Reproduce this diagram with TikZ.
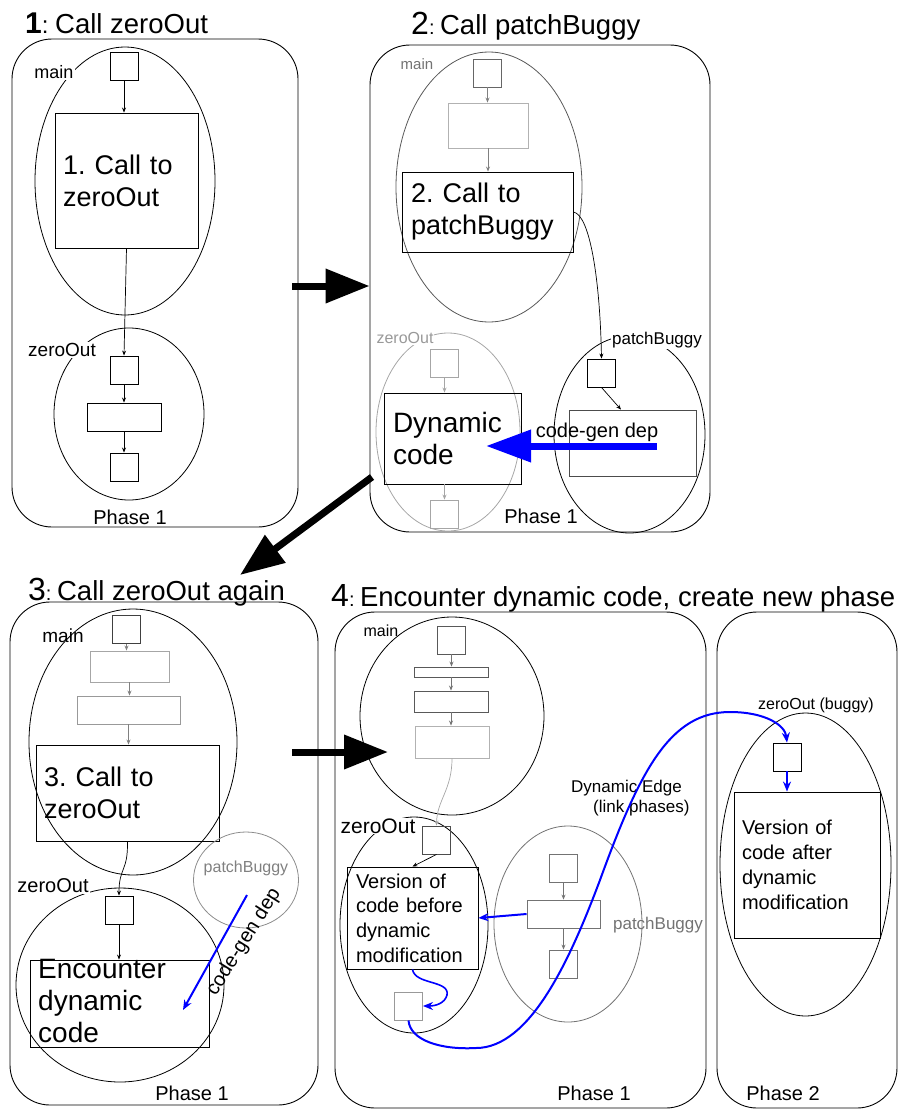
\documentclass[tikz,border=0pt]{standalone}
\usepackage{fontspec}
\setmainfont{Liberation Sans}
\usetikzlibrary{shapes.geometric,arrows.meta,calc}
\newcommand{\fz}[2]{\fontsize{#1}{#2}\selectfont}
\frenchspacing
\begin{document}
\begin{tikzpicture}[x=1pt,y=-1pt,
  panel/.style={draw, rounded corners=40pt, line width=0.9pt, inner sep=0pt},
  ell/.style={draw, ellipse, inner sep=0pt, line width=0.8pt},
  bx/.style={draw, rectangle, inner sep=0pt, line width=0.9pt},
  sq/.style={bx, minimum width=28pt, minimum height=28pt},
  con/.style={-{Stealth[length=5pt,width=4pt]}, line width=0.7pt},
  bigarrow/.style={line width=7pt, -{Triangle[length=44pt,width=33pt]}},
  bluebig/.style={draw=blue, line width=7pt, -{Triangle[length=45pt,width=31pt]}},
  bluearrow/.style={draw=blue, line width=2pt, -{Stealth[length=10pt,width=8pt]}},
  lab/.style={inner sep=1pt},
  wlab/.style={inner sep=1pt, fill=white}]
\useasboundingbox (0,0) rectangle (902,1111);

% ---------- panels ----------
\node[panel, minimum width=286pt, minimum height=488pt] (pan1) at (155,283) {};
\node[panel, minimum width=340pt, minimum height=487pt] (pan2) at (540,288.5) {};
\node[panel, minimum width=308pt, minimum height=503pt] (pan3) at (164,853.5) {};
\node[panel, minimum width=371pt, minimum height=496pt] (pan4) at (520.5,860) {};
\node[panel, minimum width=180pt, minimum height=496pt] (pan5) at (807,860) {};

% ---------- titles ----------
\node[anchor=base west, inner sep=0pt] (t1) at (25,33) {\fz{30}{34}\bfseries 1\mdseries\fz{24}{28}: \fz{27.5}{32}Call zeroOut};
\node[anchor=base west, inner sep=0pt] (t2) at (411,34) {\fz{32}{36}2\fz{20}{24}: \fz{27.5}{32}Call patchBuggy};
\node[anchor=base west, inner sep=0pt] (t3) at (28,600) {\fz{32}{36}3\fz{20}{24}: \fz{27.5}{32}Call zeroOut again};
\node[anchor=base west, inner sep=0pt] (t4) at (331,606) {\fz{32}{36}4\fz{20}{24}: \fz{27.5}{32}Encounter dynamic code, create new phase};

% ---------- panel 1 ----------
\node[ell, minimum width=180pt, minimum height=268pt] (p1m) at (125,181) {};
\node[sq] (p1a) at (124,66) {};
\node[bx, minimum width=143pt, minimum height=135pt, inner xsep=8pt, align=left, text width=127pt, font=\fz{27}{32}] (p1b) at (126.5,180.5) {1. Call to\\zeroOut};
\node[ell, minimum width=150pt, minimum height=172pt] (p1z) at (129,414) {};
\node[sq] (p1c) at (124,370) {};
\node[bx, minimum width=74pt, minimum height=28pt] (p1d) at (124,417) {};
\node[sq] (p1e) at (124,467) {};
\node[wlab, font=\fz{18}{20}] (p1ml) at (54,72) {main};
\node[wlab, font=\fz{19}{22}] (p1zl) at (62,350) {zeroOut};
\node[lab, font=\fz{20}{24}] (p1ph) at (130,517) {Phase 1};
\draw[con] (p1a.south) -- (p1a.south |- p1b.north);
\draw[con] (p1b.south) -- (p1c.north);
\draw[con] (p1c.south) -- (p1d.north);
\draw[con] (p1d.south) -- (p1e.north);

% ---------- panel 2 ----------
\node[ell, draw=black!65, minimum width=186pt, minimum height=270pt] (p2m) at (489,187) {};
\node[sq, draw=black!60] (p2a) at (487.5,73) {};
\node[bx, draw=black!30, minimum width=80pt, minimum height=45pt] (p2b) at (488,125.5) {};
\node[bx, minimum width=171pt, minimum height=80pt, inner xsep=9pt, align=left, text width=153pt, font=\fz{27}{32}] (p2c) at (487.5,212) {2. Call to\\patchBuggy};
\node[ell, draw=black!35, minimum width=144pt, minimum height=198pt] (p2z) at (448,432) {};
\node[sq, draw=black!35] (p2d) at (444.5,363.5) {};
\node[bx, minimum width=137pt, minimum height=91pt, inner xsep=9pt, align=left, text width=119pt, font=\fz{28}{32}] (p2e) at (452.5,438.5) {Dynamic\\code};
\node[sq, draw=black!35] (p2f) at (444.5,514) {};
\node[ell, minimum width=151pt, minimum height=197pt] (p2p) at (629.5,434.5) {};
\node[sq] (p2g) at (601.5,373) {};
\node[bx, draw=black!70, minimum width=127pt, minimum height=66pt] (p2h) at (632.5,443) {};
\node[wlab, text=black!55, font=\fz{15}{18}] (p2ml) at (417,64) {main};
\node[wlab, text=black!40, font=\fz{16}{19}] (p2zl) at (405,338) {zeroOut};
\node[wlab, font=\fz{17}{20}] (p2pl) at (657,340) {patchBuggy};
\node[lab, font=\fz{20}{24}] (p2ph) at (541,516) {Phase 1};
\draw[con, draw=black!50] (p2a.south) -- (p2a.south |- p2b.north);
\draw[con, draw=black!50] (p2b.south) -- (p2b.south |- p2c.north);
\draw[con] (p2c.east) .. controls (590,215) and (600,280) .. (p2g.north);
\draw[con] (p2g.south) -- ($(p2h.north west)!0.41!(p2h.north east)$);
\draw[con, draw=black!35] (p2d.south) -- (p2d.south |- p2e.north);
\draw[con, draw=black!35] (p2f.north |- p2e.south) -- (p2f.north);
\coordinate (p2cs) at (657,446);
\coordinate (p2ce) at (486,446);
\draw[bluebig] (p2cs) -- (p2ce);
\node[lab, font=\fz{20}{24}] (p2cgl) at (597,432) {code-gen dep};

% ---------- panel 3 ----------
\node[ell, minimum width=208pt, minimum height=266pt] (p3m) at (133,742) {};
\node[sq, draw=black!75] (p3a) at (126.5,629.5) {};
\node[bx, draw=black!35, minimum width=79pt, minimum height=31pt] (p3b) at (129.5,666.5) {};
\node[bx, draw=black!40, minimum width=103pt, minimum height=28pt] (p3c) at (128.5,710) {};
\node[bx, minimum width=183pt, minimum height=96pt, inner xsep=8pt, align=left, text width=167pt, font=\fz{27}{32}] (p3d) at (127.5,793) {3. Call to\\zeroOut};
\node[ell, minimum width=208pt, minimum height=194pt] (p3z) at (120,985) {};
\node[sq] (p3e) at (119,910) {};
\node[bx, minimum width=179pt, minimum height=87pt] (p3f) at (119.5,1003.5) {};
\node[anchor=west, align=left, inner sep=0pt, font=\fz{28}{32}] (p3ft) at (38,1001) {Encounter\\dynamic\\code};
\node[ell, draw=black!45, minimum width=105pt, minimum height=96pt] (p3p) at (246,880) {};
\node[lab, font=\fz{19}{22}] (p3ml) at (63,636) {main};
\node[wlab, font=\fz{20}{24}] (p3zl) at (53,886) {zeroOut};
\node[lab, text=black!50, font=\fz{16}{19}] (p3pl) at (246,868) {patchBuggy};
\node[lab, font=\fz{20}{24}] (p3ph) at (192,1093) {Phase 1};
\draw[con, draw=black!50] (p3a.south) -- (p3a.south |- p3b.north);
\draw[con, draw=black!50] (p3b.south) -- (p3b.south |- p3c.north);
\draw[con, draw=black!50] (p3c.south) -- (p3c.south |- p3d.north);
\draw[con] (p3d.south) .. controls (128,872) and (119,867) .. (p3e.north);
\draw[con] (p3e.south) -- (p3e.south |- p3f.north);
\coordinate (p3bs) at (247,895);
\coordinate (p3be) at (183,1010);
\draw[bluearrow] (p3bs) -- (p3be);
\node[lab, rotate=58, font=\fz{20}{24}] (p3cg) at (244,942) {code-gen dep};

% ---------- panel 4, phase 1 ----------
\node[ell, minimum width=184pt, minimum height=198pt] (p4m) at (452,716) {};
\node[sq, draw=black!65] (p4a) at (451.5,640) {};
\node[bx, draw=black!65, minimum width=74pt, minimum height=10pt] (p4b) at (451,672) {};
\node[bx, draw=black!65, minimum width=74pt, minimum height=21pt] (p4c) at (451,701.5) {};
\node[bx, draw=black!30, minimum width=74pt, minimum height=32pt] (p4d) at (452,742) {};
\node[ell, minimum width=148pt, minimum height=216pt] (p4z) at (414,925) {};
\node[sq, draw=black!70] (p4e) at (436.5,840) {};
\node[bx, minimum width=131pt, minimum height=102pt, inner xsep=9pt, align=left, text width=113pt, font=\fz{20}{24.7}] (p4f) at (412.5,918) {Version of\\code before\\dynamic\\modification};
\node[sq, draw=black!40] (p4g) at (408.5,1006) {};
\node[ell, draw=black!55, minimum width=148pt, minimum height=196pt] (p4p) at (568,924) {};
\node[sq, draw=black!55] (p4h) at (563.5,868) {};
\node[bx, draw=black!55, minimum width=73pt, minimum height=28pt] (p4i) at (563.5,914) {};
\node[sq, draw=black!55] (p4j) at (563.5,964) {};
\node[lab, font=\fz{16}{19}] (p4ml) at (381,631) {main};
\node[wlab, font=\fz{21}{24}] (p4zl) at (378,826) {zeroOut};
\node[lab, text=black!55, font=\fz{17}{20}] (p4pl) at (658,925) {patchBuggy};
\node[anchor=west, align=left, inner sep=0pt, font=\fz{17}{19.5}] (p4dl) at (571,798) {Dynamic Edge\\\hspace{22pt}(link phases)};
\node[lab, font=\fz{20}{24}] (p4ph) at (594,1093) {Phase 1};
\draw[con, draw=black!55] (p4a.south) -- (p4a.south |- p4b.north);
\draw[con, draw=black!55] (p4b.south) -- (p4b.south |- p4c.north);
\draw[con, draw=black!55] (p4c.south) -- (p4c.south |- p4d.north);
\draw[con, draw=black!35] (p4d.south) .. controls (452,790) and (437,800) .. (p4e.north);
\draw[con] (p4e.south) -- (p4f.north);
\draw[con, draw=black!55] (p4h.south) -- (p4i.north);
\draw[con, draw=black!55] (p4i.south) -- (p4j.north);
\draw[bluearrow] (p4i.west) -- (p4f.east);
\draw[bluearrow, line width=1.6pt] (p4f.south) .. controls (415,985) and (450,980) .. (447,995) .. controls (445,1003) and (436,1006) .. (p4g.east);

% ---------- panel 4, phase 2 ----------
\node[ell, minimum width=171pt, minimum height=303pt] (p5z) at (805.5,864.5) {};
\node[sq] (p5a) at (787,757) {};
\node[bx, minimum width=146pt, minimum height=146pt, inner xsep=8pt, align=left, text width=130pt, font=\fz{20}{25}] (p5b) at (807,865) {Version of\\code after\\dynamic\\modification};
\node[lab, font=\fz{16}{19}] (p5zl) at (816,705) {zeroOut (buggy)};
\node[lab, font=\fz{20}{24}] (p5ph) at (783,1093) {Phase 2};
\draw[bluearrow, line width=1.6pt] (p5a.south) -- (p5a.south |- p5b.north);

% dynamic edge linking phases
\draw[bluearrow] (p4g.south) .. controls (410,1040) and (440,1050) .. (476,1048)
  .. controls (530,1048) and (570,960) .. (600,880)
  .. controls (640,770) and (670,712) .. (730,712)
  .. controls (765,712) and (785,725) .. (p5a.north);

% ---------- big step arrows ----------
\coordinate (a1s) at (292,286);
\draw[bigarrow] (a1s) -- (pan2.west |- a1s);
\coordinate (a2s) at (372,477);
\coordinate (a2e) at (240,575);
\draw[bigarrow] (a2s) -- (a2e);
\coordinate (a3s) at (292,752);
\coordinate (a3e) at (388,752);
\draw[bigarrow] (a3s) -- (a3e);
\end{tikzpicture}
\end{document}
